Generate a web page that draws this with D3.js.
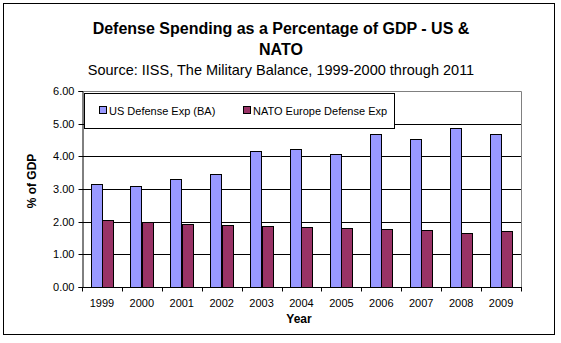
<!DOCTYPE html>
<html><head><meta charset="utf-8">
<script src="https://cdn.jsdelivr.net/npm/d3@7"></script>
<style>body{margin:0;background:#fff}svg{display:block;font-family:"Liberation Sans",Arial,sans-serif}</style>
</head><body><svg id="c" width="561" height="343"></svg>
<script>
const years = ["1999","2000","2001","2002","2003","2004","2005","2006","2007","2008","2009"];
const usValues = [3.15,3.09,3.30,3.45,4.15,4.22,4.06,4.67,4.52,4.86,4.67];
const natoValues = [2.04,1.99,1.92,1.89,1.86,1.83,1.80,1.77,1.74,1.65,1.71];
const seriesNames = ["US Defense Exp (BA)","NATO Europe Defense Exp"];
const yTicks = [0,1,2,3,4,5,6];

const svg = d3.select("#c");
svg.append("rect").attr("x",3.5).attr("y",3.5).attr("width",551).attr("height",331)
  .attr("fill","#fff").attr("stroke","#000");

const L=82, R=521, T=91, B=287;
const x = d3.scaleBand().domain(years).range([L,R]).padding(0);
const y = d3.scaleLinear().domain([0,6]).range([B,T]);
const sub = d3.scaleBand().domain([0,1]).range([0,x.bandwidth()]).paddingInner(0).paddingOuter(0.75);

// gridlines
svg.append("g").selectAll("line").data(yTicks.filter(d=>d>0&&d<6)).join("line")
  .attr("x1",L).attr("x2",R).attr("y1",d=>Math.round(y(d))+0.5).attr("y2",d=>Math.round(y(d))+0.5)
  .attr("stroke","#000");
// plot border top/right grey
svg.append("path").attr("d",`M${L},${T+0.5}H${R+0.5}V${B}`).attr("fill","none").attr("stroke","#808080");

const series=[usValues,natoValues], colors=["#9999FF","#993366"];
series.forEach((vals,si)=>{
  svg.append("g").selectAll("rect").data(vals).join("rect")
    .attr("x",(d,i)=>Math.round(x(years[i])+sub(si))+0.5)
    .attr("y",d=>Math.round(y(d))+0.5)
    .attr("width",Math.round(sub.bandwidth()))
    .attr("height",d=>Math.round(B-y(d)))
    .attr("fill",colors[si]).attr("stroke","#000");
});

// y axis
const ya = svg.append("g").attr("transform",`translate(${L+0.5},0)`)
  .call(d3.axisLeft(y).tickValues(yTicks).tickFormat(d3.format(".2f")).tickSize(4).tickPadding(4));
ya.select(".domain").attr("stroke","#000");
ya.selectAll("line").attr("stroke","#000");
ya.selectAll("text").attr("font-size","11px").attr("fill","#000").attr("font-family","Liberation Sans, Arial, sans-serif");
ya.selectAll(".tick").attr("transform",d=>`translate(0,${Math.round(y(d))+0.5})`);

// x axis
const xg = svg.append("g").attr("transform",`translate(0,${B+0.5})`);
xg.append("line").attr("x1",L).attr("x2",R+1).attr("stroke","#000");
xg.selectAll("line.t").data(years.concat(["end"])).join("line").attr("class","t")
  .attr("x1",(d,i)=>Math.round(L+i*x.bandwidth())+0.5).attr("x2",(d,i)=>Math.round(L+i*x.bandwidth())+0.5)
  .attr("y1",0).attr("y2",4).attr("stroke","#000");
xg.selectAll("text").data(years).join("text")
  .attr("x",d=>x(d)+x.bandwidth()/2).attr("y",19).attr("text-anchor","middle")
  .attr("font-size","11px").text(d=>d);

// titles
svg.append("text").attr("x",281).attr("y",34).attr("text-anchor","middle")
  .attr("font-size","16px").attr("font-weight","bold").text("Defense Spending as a Percentage of GDP - US &");
svg.append("text").attr("x",281).attr("y",55).attr("text-anchor","middle")
  .attr("font-size","16px").attr("font-weight","bold").text("NATO");
svg.append("text").attr("x",281).attr("y",75).attr("text-anchor","middle")
  .attr("font-size","14.5px").text("Source: IISS, The Military Balance, 1999-2000 through 2011");
svg.append("text").attr("x",299).attr("y",323).attr("text-anchor","middle")
  .attr("font-size","12px").attr("font-weight","bold").text("Year");
svg.append("text").attr("transform","translate(36,181) rotate(-90)").attr("text-anchor","middle")
  .attr("font-size","12px").attr("font-weight","bold").text("% of GDP");

// legend
const lg = svg.append("g");
lg.append("rect").attr("x",84.5).attr("y",93.5).attr("width",310).attr("height",35).attr("fill","#fff").attr("stroke","#000");
const lx=[99,243];
seriesNames.forEach((n,i)=>{
  lg.append("rect").attr("x",lx[i]+0.5).attr("y",106.5).attr("width",7).attr("height",7).attr("fill",colors[i]).attr("stroke","#000");
  lg.append("text").attr("x",lx[i]+10).attr("y",114.5).attr("font-size","11px").text(n);
});
</script></body></html>
